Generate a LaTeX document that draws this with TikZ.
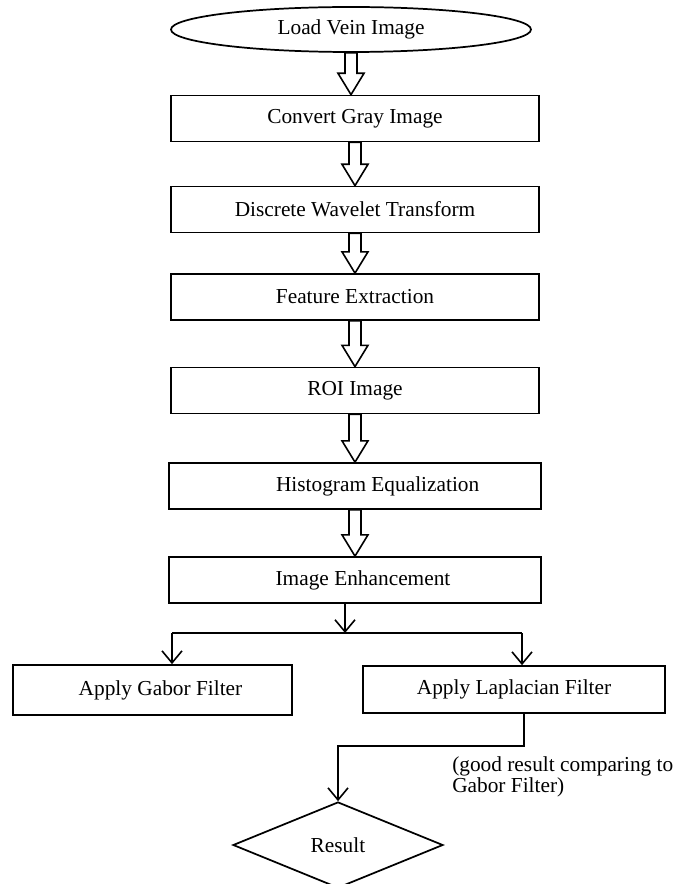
\documentclass[tikz,border=0pt]{standalone}
\usepackage{fontspec}
\setmainfont{Liberation Serif}
\usetikzlibrary{shapes.geometric,arrows.meta,calc}

\newcommand{\hollowarrow}[2]{%
\draw[line width=1.2pt,fill=white] let \p1=(#1.south), \p2=(#2.north) in
(\x1-4.5pt,\y1) -- (\x1-4.5pt,\y2+16pt) -- (\x1-9.75pt,\y2+16pt) -- (\x1,\y2)
-- (\x1+9.75pt,\y2+16pt) -- (\x1+4.5pt,\y2+16pt) -- (\x1+4.5pt,\y1) -- cycle;}

\begin{document}
\begin{tikzpicture}[x=0.75pt,y=-0.75pt,
  every node/.style={font=\fontsize{16}{14.25}\selectfont},
  stepbox/.style={draw,line width=1.3pt,rectangle,inner sep=0pt,
    minimum width=276pt,minimum height=34.5pt},
  tip/.style={line width=1.2pt,-{Straight Barb[length=9pt,width=15pt]}}]
\useasboundingbox (0,0) rectangle (678,884);
\node[draw,line width=1.3pt,ellipse,inner sep=0pt,minimum width=270pt,minimum height=33.75pt] (load) at (351,29.5) {Load Vein Image};
\node[stepbox] (gray) at (355,118.5) {Convert Gray Image};
\node[stepbox] (dwt) at (355,209.5) {Discrete Wavelet Transform};
\node[stepbox] (feat) at (355,297) {Feature Extraction};
\node[stepbox] (roi) at (355,390.5) {ROI Image};
\node[stepbox,minimum width=279pt] (hist) at (355,486) {\hspace*{34pt}Histogram Equalization};
\node[stepbox,minimum width=279pt] (enh) at (355,580) {\hspace*{12pt}Image Enhancement};
\node[stepbox,minimum width=209.25pt,minimum height=37.5pt] (gabor) at (152.5,690) {\hspace*{12pt}Apply Gabor Filter};
\node[stepbox,minimum width=226.5pt,minimum height=35.25pt] (lap) at (514,689.5) {Apply Laplacian Filter};
\node[draw,line width=1.3pt,diamond,inner sep=0pt,minimum width=157.5pt,minimum height=64.5pt] (res) at (338,845) {Result};
\node[anchor=base west,align=left,inner sep=0pt] (note) at (452,792) {(good result comparing to\\Gabor Filter)};
% block arrows down the main chain
\hollowarrow{load}{gray}
\hollowarrow{gray}{dwt}
\hollowarrow{dwt}{feat}
\hollowarrow{feat}{roi}
\hollowarrow{roi}{hist}
\hollowarrow{hist}{enh}
% split into the two filters
\coordinate (split) at (345,633);
\coordinate (gsplit) at (172,633);
\coordinate (lsplit) at (522,633);
\draw[tip] (enh.south -| split) -- (split);
\draw[line width=1.2pt] (gsplit) -- (lsplit);
\draw[tip] (gsplit) -- (gsplit |- gabor.north);
\draw[tip] (lsplit) -- (lsplit |- lap.north);
% laplacian to result
\coordinate (bend1) at (524,746);
\coordinate (bend2) at (338,746);
\draw[tip] (bend1 |- lap.south) -- (bend1) -- (bend2) -- (res.north);
\end{tikzpicture}
\end{document}
